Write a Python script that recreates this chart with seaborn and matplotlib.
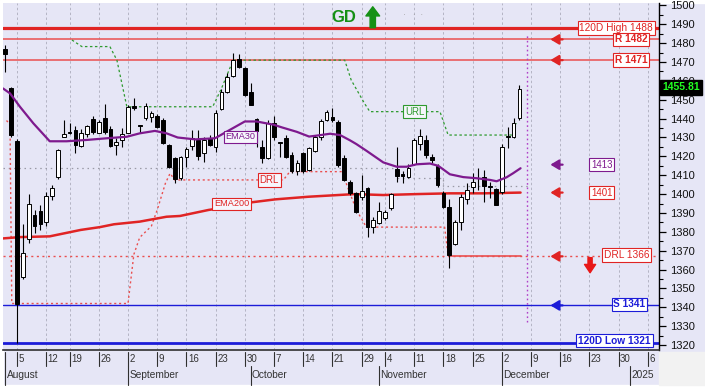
import numpy as np
import matplotlib
matplotlib.use('Agg')
import matplotlib.pyplot as plt
import seaborn as sns
from matplotlib.patches import Rectangle
from matplotlib.transforms import blended_transform_factory

# ---------------- data ----------------
opens = [1477, 1456, 1428, 1356, 1376, 1389, 1391, 1385, 1399, 1409,
         1430.1, 1433, 1434, 1425.5, 1432, 1440, 1432.6, 1440.5, 1434.3, 1426,
         1428.7, 1432.6, 1446.7, 1436.2, 1440.2, 1440.7, 1441.4, 1439.3, 1426, 1419,
         1408.5, 1419.5, 1425.5, 1428.7, 1422, 1429.6, 1424.8, 1445, 1454.3, 1462.6,
         1471.5, 1466.7, 1454.3, 1439.6, 1425, 1419, 1437.5, 1427.2, 1429.6, 1420.7,
         1412.4, 1421.6, 1413, 1423, 1430.5, 1439.3, 1441, 1438.4, 1419, 1406.6,
         1400.4, 1398.3, 1403, 1382.4, 1384.5, 1387.1, 1392.5, 1413.1, 1410.5, 1408.9,
         1416, 1426.6, 1428.7, 1419.8, 1415, 1400.4, 1393, 1373.5, 1385.4, 1397.5,
         1403.6, 1408.3, 1408.9, 1404.2, 1402.5, 1401.3, 1430, 1430.1, 1440.2]
closes = [1474.5, 1431.3, 1342, 1369, 1395, 1383, 1384, 1399, 1403, 1423.4,
          1432, 1432.3, 1426, 1432.6, 1436, 1433, 1438.4, 1433, 1425.5, 1427.6,
          1431.7, 1446.4, 1445.5, 1436, 1446.7, 1442.8, 1435.4, 1427, 1414.2, 1408,
          1419.5, 1423.7, 1429.6, 1420.2, 1428.7, 1426, 1443, 1454.3, 1461.9, 1471,
          1467.2, 1452.5, 1447.2, 1433.6, 1419, 1437.9, 1430, 1427, 1419.5, 1412.4,
          1416.7, 1412, 1424.3, 1430, 1439, 1443.7, 1439.3, 1415.4, 1407.5, 1400.4,
          1390.7, 1401.8, 1382.7, 1386.3, 1391.2, 1390.7, 1400, 1409.6, 1409.5, 1413.7,
          1428.7, 1430.8, 1420.7, 1418, 1404.8, 1393, 1367.7, 1385.4, 1398.3, 1402,
          1406.6, 1408.7, 1404.3, 1404, 1394.2, 1424.8, 1431, 1437.5, 1455.81]
highs = [1479, 1457, 1429, 1384, 1400, 1391.6, 1394, 1401, 1405, 1424,
         1439.3, 1437.5, 1436, 1434.5, 1436.5, 1441.5, 1439.3, 1448, 1436, 1429.5,
         1435, 1447.2, 1450.8, 1436.6, 1448.1, 1444.1, 1442.5, 1440.2, 1426.5, 1419.9,
         1420, 1425.1, 1434, 1434, 1430.5, 1431.3, 1444.6, 1455.5, 1464, 1474.6,
         1474.3, 1467.6, 1459, 1440.2, 1428.7, 1439.3, 1441.4, 1427.5, 1431.3, 1422.5,
         1418, 1422.5, 1425.1, 1431.3, 1439.6, 1444.6, 1445.5, 1439.3, 1420.7, 1407.5,
         1401.3, 1410, 1404, 1388, 1396, 1391.6, 1400.4, 1425.1, 1412, 1416,
         1429.6, 1434.3, 1431.3, 1421.3, 1416, 1401.8, 1397.2, 1386.3, 1400, 1406,
         1411, 1414, 1413, 1406.5, 1403, 1426.6, 1435.7, 1440.2, 1457.8]
lows = [1464.5, 1430, 1321, 1355, 1374, 1379.2, 1381, 1383, 1397, 1408,
        1430, 1432, 1422, 1425, 1430.5, 1432, 1432.2, 1432, 1425.2, 1420.7,
        1425.2, 1432.2, 1444.6, 1432.6, 1439.3, 1438.4, 1434.9, 1426.6, 1413.7, 1406,
        1407.5, 1414.2, 1423.4, 1418, 1417.2, 1425.5, 1422.5, 1444.6, 1453.4, 1462.2,
        1466.7, 1452, 1447.2, 1425.1, 1416.7, 1418.5, 1428.7, 1419.8, 1419, 1411.4,
        1410.1, 1411.4, 1412.4, 1422.5, 1428.7, 1439, 1438.4, 1414.5, 1407.2, 1399.5,
        1389.8, 1396.9, 1377.4, 1379.2, 1384.1, 1386.3, 1391.6, 1406.6, 1405.7, 1408.4,
        1415.4, 1423.4, 1419, 1416.7, 1404, 1392.5, 1360.6, 1373, 1381, 1395,
        1400.4, 1402, 1396, 1398, 1394, 1399.9, 1424.3, 1429.6, 1439.3]

ema30_x = [-0.4, 0.8, 2.5, 4.8, 7.6, 10.5, 13.9, 17.4, 20.8, 23, 25.6, 27.6, 29.5, 32.5,
           35.9, 38.7, 41, 43, 45.9, 47.3, 49.9, 52, 53.3, 55.6, 57.3, 59, 60.1, 61.8,
           64.7, 67, 68.7, 70.4, 72.7, 74.1, 75, 76.1, 78.4, 80.7, 83, 84.1, 85.8, 86.9, 88.2]
ema30_y = [1456, 1453.4, 1446.3, 1437.5, 1428, 1428, 1428.7, 1429.6, 1430.4, 1432.2, 1433.5,
           1432.2, 1430, 1429, 1429.6, 1434.5, 1438.5, 1438.5, 1436.8, 1435.4, 1433, 1430.5,
           1431, 1432, 1431.3, 1428.5, 1426.5, 1423, 1416.8, 1414.5, 1414.5, 1415.8, 1416.2,
           1415, 1413, 1410.5, 1409, 1408.4, 1407.5, 1406.8, 1408.9, 1411, 1413.7]
ema200_x = [-0.4, 2.5, 7.6, 12.9, 16.2, 18.6, 23, 27.6, 29.9, 34.8, 39, 40.5, 46.2, 51.9,
            59.8, 64.7, 70.4, 76.1, 81.8, 88.2]
ema200_y = [1376.5, 1377.2, 1377.6, 1381, 1382.5, 1384, 1385.4, 1388, 1388.4, 1391.6,
            1393.5, 1395, 1397.2, 1398.6, 1400, 1399.5, 1400, 1400.4, 1400.4, 1400.8]
url_x = [11.4, 13.1, 17.9, 19.1, 20.8, 35.5, 37, 39, 58.1, 59.2, 61.5, 62.4, 74.4, 75.8, 86.9, 87.5]
url_y = [1481.7, 1478.2, 1478.2, 1471, 1446.3, 1446.3, 1456, 1471, 1471, 1460.5, 1448,
         1443.7, 1443.7, 1431.3, 1431.3, 1437.5]
drl_x = [0.2, 0.8, 1.1, 21, 22, 23, 25, 26, 27.4, 28.2, 29, 47.6, 48.7, 57.6, 59, 60.1,
         61.8, 75.2, 75.8]
drl_y = [1439, 1437, 1342, 1342, 1368, 1377, 1383, 1391.6, 1405.7, 1411, 1407.5, 1407.5,
         1411.9, 1411.9, 1400.4, 1391.6, 1382.5, 1382.5, 1367.5]
gray_x = [-0.4, 67, 67, 75, 75, 89.5]
gray_y = [1413.7, 1413.7, 1408.4, 1408.4, 1404.5, 1404.5]

day_labels = ['5', '12', '19', '26', '2', '9', '16', '23', '30', '7', '14', '21', '29',
              '4', '11', '18', '25', '2', '9', '16', '23', '30', '6']
day_pos = [2, 7, 11, 16, 21, 26, 31, 36, 41, 46, 51, 56, 61, 65, 70, 75, 80, 85, 90, 95,
           100, 105, 110]
month_labels = ['August', 'September', 'October', 'November', 'December', '2025']
month_pos = [0, 21, 42, 64, 85, 107]

high120, r1, r2, drl_lvl, s1, low120 = 1488, 1482, 1471, 1366, 1341, 1321
ema30_last, ema200_last, last_close = 1413, 1401, 1455.81

# ---------------- style ----------------
sns.set_style('white')
plt.rcParams['font.family'] = ['Liberation Sans', 'DejaVu Sans']

BG = '#E6E6F6'
RED = '#E02424'
LRED = '#EA4F4F'
BLUE = '#1C1CD8'
PURP = '#7E1A8E'
GREEN = '#2E9A2E'

fig = plt.figure(figsize=(7.05, 3.87), dpi=100, facecolor=BG)
ax = fig.add_axes([3 / 705, 1 - 350 / 387, 656 / 705, 347 / 387])
ax.set_facecolor(BG)
ax.set_xlim(-0.4, 111.9)
ax.set_ylim(1317.35, 1501.3)

# white margins / corner
fig.add_artist(Rectangle((0, 0), 3 / 705, 1, transform=fig.transFigure, color='white', zorder=0))
fig.add_artist(Rectangle((0, 1 - 3 / 387), 1, 3 / 387, transform=fig.transFigure, color='white', zorder=0))
fig.add_artist(Rectangle((0, 0), 1, 2 / 387, transform=fig.transFigure, color='white', zorder=0))
fig.add_artist(Rectangle((659 / 705, 2 / 387), 46 / 705, 33 / 387, transform=fig.transFigure,
                         color='#F2F2F2', zorder=0))

# grid at week ticks
for p in day_pos:
    ax.axvline(p, color='#B4B4C4', lw=0.7, ls=(0, (2.5, 2.5)), zorder=1)

# horizontal level lines
ax.axhline(high120, color=RED, lw=2.3, zorder=2)
ax.axhline(r1, color=LRED, lw=1.1, zorder=2)
ax.axhline(r2, color=LRED, lw=1.1, zorder=2)
ax.axhline(s1, color=BLUE, lw=1.0, zorder=2)
ax.axhline(low120, color=BLUE, lw=2.0, zorder=2)
ax.axhline(drl_lvl + 1, color=LRED, lw=1.0, ls=(0, (1.5, 2.5)), zorder=2)
ax.plot([76, 88.3], [drl_lvl + 1, drl_lvl + 1], color=LRED, lw=1.2, zorder=2)

# helper lines
ax.plot(gray_x, gray_y, color='#9A9AA6', lw=0.9, ls=(0, (1.2, 3)), zorder=2)
ax.plot(url_x, url_y, color=GREEN, lw=0.9, ls=(0, (2, 2)), zorder=2)
ax.plot(drl_x, drl_y, color=LRED, lw=1.0, ls=(0, (1.5, 2)), zorder=2)
ax.plot([89.3, 89.3], [1332, 1484.5], color='#B040C8', lw=1.0, ls=(0, (1.2, 2)), zorder=2)

# moving averages
sns.lineplot(x=ema200_x, y=ema200_y, ax=ax, color=RED, lw=1.8, zorder=3)
sns.lineplot(x=ema30_x, y=ema30_y, ax=ax, color=PURP, lw=1.6, zorder=6)

# candles
o = np.array(opens); c = np.array(closes); h = np.array(highs); l = np.array(lows)
idx = np.arange(len(o))
up = c >= o
bottom = np.minimum(o, c)
height = np.maximum(np.abs(c - o), 0.4)
ax.vlines(idx, l, h, color='black', lw=0.8, zorder=4)
ax.bar(idx[up], height[up], bottom=bottom[up], width=0.64, color='white',
       edgecolor='black', linewidth=0.7, zorder=5)
ax.bar(idx[~up], height[~up], bottom=bottom[~up], width=0.64, color='black',
       edgecolor='black', linewidth=0.7, zorder=5)

# in-chart labels
def tag(x, y, s, col, fs=6.8, ha='center', face='#F6F6FC', weight='normal'):
    ax.text(x, y, s, color=col, fontsize=fs, ha=ha, va='center', zorder=8, fontweight=weight,
            bbox=dict(boxstyle='square,pad=0.18', fc=face, ec=col, lw=0.8))

tag(40.2, 1430.4, 'EMA30', PURP, fs=6.6)
tag(38.7, 1394.8, 'EMA200', RED, fs=6.6)
tag(45.2, 1407.5, 'DRL', RED, fs=7)
tag(70.1, 1443.7, 'URL', GREEN, fs=7)

# right-side labels
tag(110.9, high120, f'120D High {high120}', RED, fs=7.3, ha='right', face='white')
tag(109.9, r1, f'R {r1}', RED, fs=7.3, ha='right', face='white', weight='bold')
tag(109.9, r2, f'R {r2}', RED, fs=7.3, ha='right', face='white', weight='bold')
tag(102.1, 1415.6, f'{ema30_last}', PURP, fs=7, face='white')
tag(102.1, 1400.8, f'{ema200_last}', RED, fs=7, face='white')
tag(110.3, drl_lvl + 1.6, f'DRL {drl_lvl}', RED, fs=7.3, ha='right', face='white')
tag(109.6, s1 + 0.5, f'S {s1}', BLUE, fs=7.3, ha='right', face='white', weight='bold')
tag(110.5, low120 + 1.3, f'120D Low {low120}', BLUE, fs=7.3, ha='right', face='white', weight='bold')

# small arrows pointing left
for yv, col in [(r1, RED), (r2, RED), (1415.6, PURP), (1400.8, RED), (drl_lvl + 1, RED),
                (s1, BLUE)]:
    ax.annotate('', xy=(93.3, yv), xytext=(95.4, yv), zorder=9,
                arrowprops=dict(arrowstyle='-|>,head_length=0.5,head_width=0.3',
                                color=col, lw=1.6, shrinkA=0, shrinkB=0))

# red down arrow
ax.annotate('', xy=(100.1, 1358.3), xytext=(100.1, 1366.3), zorder=9,
            arrowprops=dict(arrowstyle='simple,head_length=0.6,head_width=0.8,tail_width=0.3',
                            color='#E81818', shrinkA=0, shrinkB=0, mutation_scale=10))

# GD signal
ax.text(57.9, 1493.5, 'GD', color='#159015', fontsize=12, fontweight='bold',
        ha='center', va='center', zorder=9)
ax.annotate('', xy=(62.9, 1499.3), xytext=(62.9, 1488.2), zorder=9,
            arrowprops=dict(arrowstyle='simple,head_length=0.6,head_width=0.9,tail_width=0.35',
                            color='#159015', shrinkA=0, shrinkB=0, mutation_scale=11))
ax.text(69.8, 1494.5, '·   ·  ·', color='#A0A0A0', fontsize=6, ha='center', va='center')

# axes styling
for s in ['top', 'left']:
    ax.spines[s].set_visible(False)
ax.spines['right'].set_color('black')
ax.spines['right'].set_linewidth(1.0)
ax.spines['bottom'].set_color('#303030')
ax.spines['bottom'].set_linewidth(1.2)
ax.yaxis.tick_right()
ax.set_yticks(np.arange(1320, 1501, 10))
ax.set_yticks(np.arange(1325, 1500, 10), minor=True)
ax.tick_params(axis='y', which='major', length=5, width=0.9, color='black', direction='out',
               labelsize=8, pad=3, labelcolor='#111111')
ax.tick_params(axis='y', which='minor', length=3, width=0.8, color='black', direction='out')
ax.set_xticks([])

# price tag
ax.text(1.0335, last_close + 0.7, f'{last_close:.2f}', transform=blended_transform_factory(ax.transAxes, ax.transData),
        color='#22FF22', fontsize=7.5, fontweight='bold', ha='center', va='center', zorder=10,
        bbox=dict(boxstyle='square,pad=0.2', fc='black', ec='black'), clip_on=False)

# date axis
tb = blended_transform_factory(ax.transData, ax.transAxes)
y_day_top, y_day_bot, y_mon_bot = -0.006, -0.045, -0.102
for p, s in zip(day_pos, day_labels):
    ax.plot([p, p], [y_day_top, y_day_bot], transform=tb, color='#303030', lw=0.8, clip_on=False)
    ax.text(p + 0.25, -0.027, s, transform=tb, fontsize=7, color='#333333', ha='left',
            va='center', clip_on=False)
ax.plot([0, 0], [y_day_top, y_day_bot], transform=tb, color='#303030', lw=0.8, clip_on=False)
for p, s in zip(month_pos, month_labels):
    ax.plot([p, p], [y_day_bot, y_mon_bot], transform=tb, color='#303030', lw=0.8, clip_on=False)
    ax.text(p + 0.2, -0.071, s, transform=tb, fontsize=7.3, color='#333333', ha='left',
            va='center', clip_on=False)

fig.savefig('out.png', dpi=100, facecolor=BG)
